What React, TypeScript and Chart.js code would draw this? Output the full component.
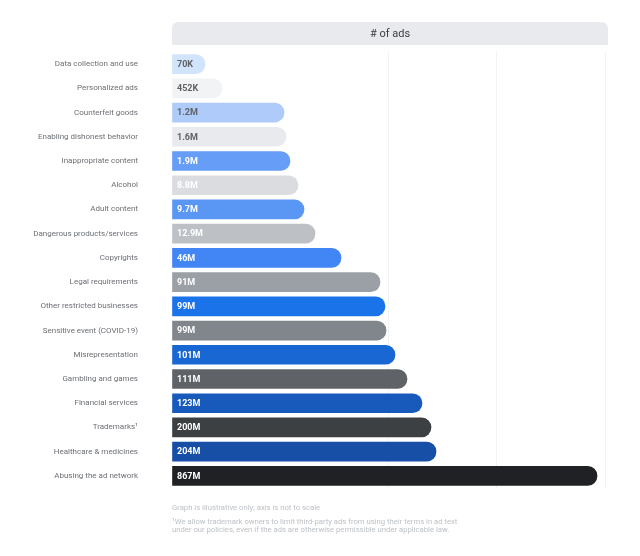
import React, { useEffect, useRef } from "react";
import { Chart, registerables } from "chart.js";

Chart.register(...registerables);

const categories = [
  "Data collection and use",
  "Personalized ads",
  "Counterfeit goods",
  "Enabling dishonest behavior",
  "Inappropriate content",
  "Alcohol",
  "Adult content",
  "Dangerous products/services",
  "Copyrights",
  "Legal requirements",
  "Other restricted businesses",
  "Sensitive event (COVID-19)",
  "Misrepresentation",
  "Gambling and games",
  "Financial services",
  "Trademarks¹",
  "Healthcare & medicines",
  "Abusing the ad network",
];

const valueLabels = [
  "70K", "452K", "1.2M", "1.6M", "1.9M", "8.8M", "9.7M", "12.9M", "46M",
  "91M", "99M", "99M", "101M", "111M", "123M", "200M", "204M", "867M",
];

// Illustrative bar lengths (axis is not to scale)
const barLengths = [
  33, 50, 112, 114, 118, 126, 132, 143, 169, 208, 213, 214, 223, 235, 250, 259, 264, 425,
];

const barColors = [
  "#d2e3fc", "#f1f3f4", "#aecbfa", "#e8eaed", "#669df6", "#dadce0", "#5a97f5", "#bdc1c6", "#4285f4",
  "#9aa0a6", "#1a73e8", "#80868b", "#1967d2", "#5f6368", "#185abc", "#3c4043", "#174ea6", "#202124",
];

const labelColors = [
  "#5f6368", "#5f6368", "#5f6368", "#5f6368", "#ffffff", "#ffffff", "#ffffff", "#ffffff", "#ffffff",
  "#ffffff", "#ffffff", "#ffffff", "#ffffff", "#ffffff", "#ffffff", "#ffffff", "#ffffff", "#ffffff",
];

const headerText = "# of ads";
const footnotes = [
  "Graph is illustrative only; axis is not to scale",
  "¹We allow trademark owners to limit third-party ads from using their terms in ad text",
  "under our policies, even if the ads are otherwise permissible under applicable law.",
];

const FONT = "Roboto, 'Noto Sans', sans-serif";

export default function App() {
  const ref = useRef<HTMLCanvasElement | null>(null);

  useEffect(() => {
    document.body.style.margin = "0";
    const canvas = ref.current;
    if (!canvas) return;

    const decorPlugin = {
      id: "decor",
      beforeDraw(chart: any) {
        const { ctx, chartArea } = chart;
        const left = chartArea.left;
        const right = chartArea.right + 3;
        const top = 22;
        const bottom = 45;
        const r = 7;
        ctx.save();
        ctx.fillStyle = "#e8eaed";
        ctx.beginPath();
        ctx.moveTo(left, bottom);
        ctx.lineTo(left, top + r);
        ctx.quadraticCurveTo(left, top, left + r, top);
        ctx.lineTo(right - r, top);
        ctx.quadraticCurveTo(right, top, right, top + r);
        ctx.lineTo(right, bottom);
        ctx.closePath();
        ctx.fill();
        ctx.fillStyle = "#3c4043";
        ctx.font = `11px ${FONT}`;
        ctx.textAlign = "center";
        ctx.textBaseline = "middle";
        ctx.fillText(headerText, (left + right) / 2, 34.5);

        ctx.fillStyle = "#bdc1c6";
        ctx.font = `7.7px ${FONT}`;
        ctx.textAlign = "left";
        ctx.fillText(footnotes[0], left, 508);
        ctx.fillText(footnotes[1], left, 522);
        ctx.fillText(footnotes[2], left, 530.5);
        ctx.restore();
      },
      afterDatasetsDraw(chart: any) {
        const { ctx } = chart;
        const meta = chart.getDatasetMeta(0);
        ctx.save();
        ctx.font = `bold 9px ${FONT}`;
        ctx.textAlign = "left";
        ctx.textBaseline = "middle";
        meta.data.forEach((bar: any, i: number) => {
          ctx.fillStyle = labelColors[i];
          ctx.fillText(valueLabels[i], chart.chartArea.left + 5, bar.y + 0.5);
        });
        ctx.restore();
      },
    };

    const chart = new Chart(canvas, {
      type: "bar",
      data: {
        labels: categories,
        datasets: [
          {
            data: barLengths,
            backgroundColor: barColors,
            borderRadius: 10,
            borderSkipped: "start",
            barThickness: 19,
          },
        ],
      },
      options: {
        indexAxis: "y",
        animation: false,
        responsive: false,
        maintainAspectRatio: false,
        layout: { padding: { top: 52, bottom: 68, left: 0, right: 35 } },
        plugins: { legend: { display: false }, tooltip: { enabled: false } },
        scales: {
          x: {
            min: 0,
            max: 433,
            border: { display: false },
            ticks: { display: false, stepSize: 108.25 },
            grid: {
              drawTicks: false,
              color: (c: any) => (c.index <= 1 ? "rgba(0,0,0,0)" : "#f1f3f4"),
              lineWidth: 1,
            },
          },
          y: {
            border: { display: false },
            grid: { display: false, drawTicks: false },
            afterFit: (scale: any) => {
              scale.width = 172;
            },
            ticks: {
              padding: 34,
              color: "#6b6f74",
              font: { family: FONT, size: 8 },
              autoSkip: false,
            },
          },
        },
      },
      plugins: [decorPlugin],
    });

    return () => chart.destroy();
  }, []);

  return (
    <div style={{ width: 640, height: 556 }}>
      <canvas ref={ref} width={640} height={556} style={{ display: "block" }} />
    </div>
  );
}
